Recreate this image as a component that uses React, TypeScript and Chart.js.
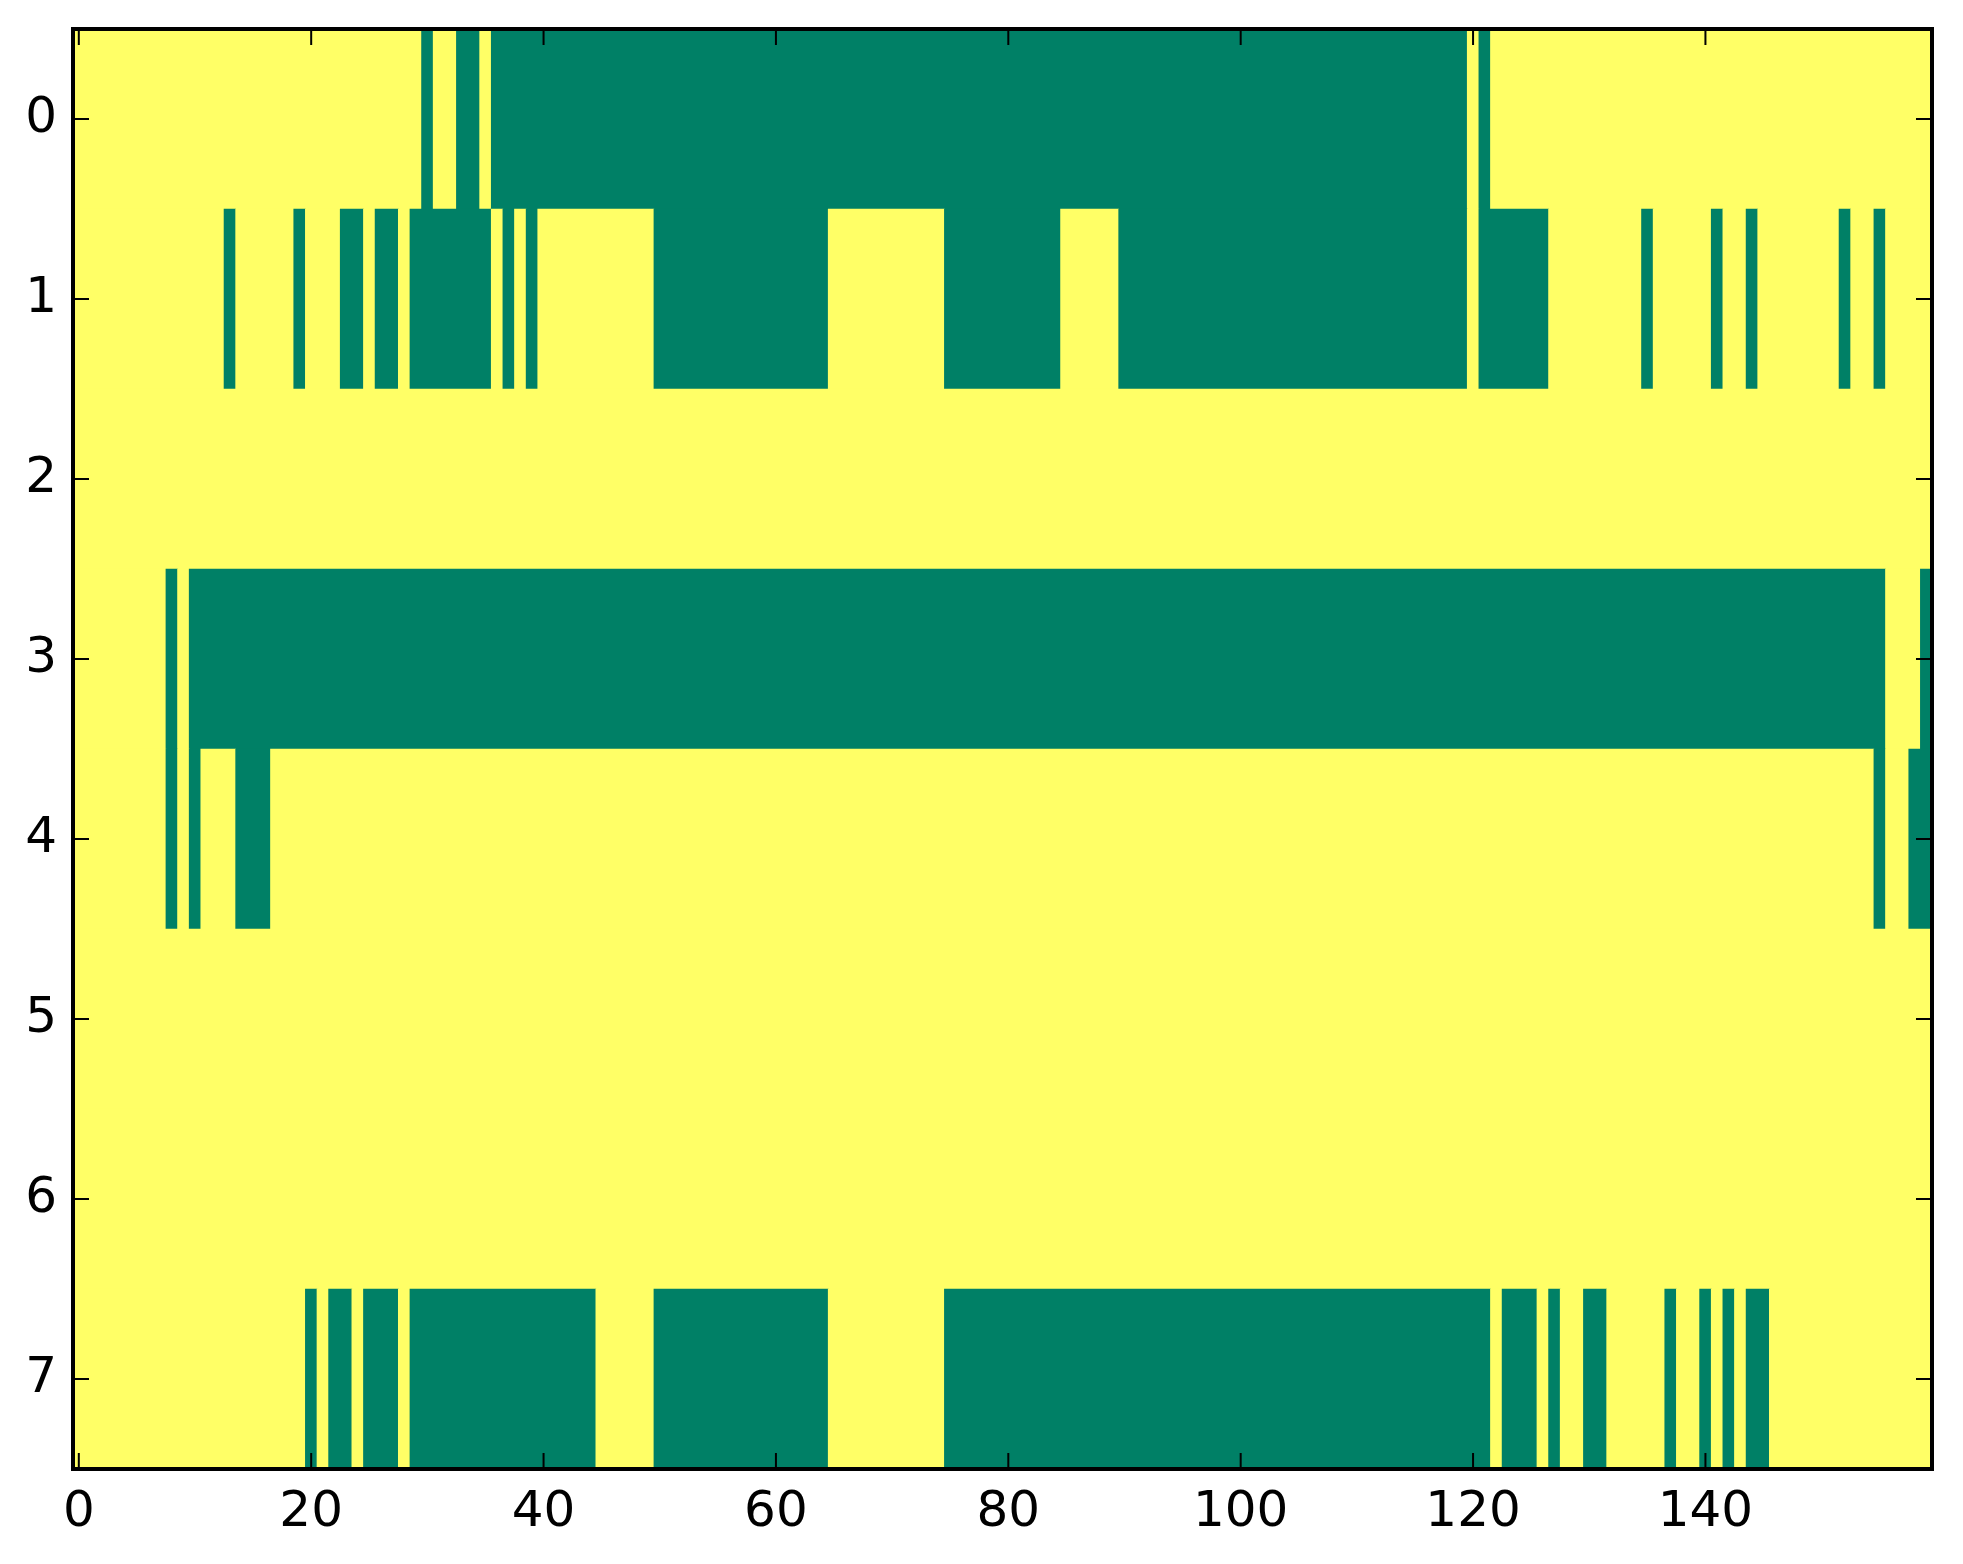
import React, { useEffect, useRef } from 'react';
import { Chart, registerables } from 'chart.js';

Chart.register(...registerables);

// ---- data ----
const ROW_LABELS = ['0', '1', '2', '3', '4', '5', '6', '7'];
const X_TICKS = [0, 20, 40, 60, 80, 100, 120, 140];
const N_COLS = 160;

// Runs of cells whose value is 0 (green); every other cell is 1 (yellow).
const ROW0_ZERO_RUNS = [[30, 30], [33, 34], [36, 119], [121, 121]];
const ROW1_ZERO_RUNS = [
  [13, 13], [19, 19], [23, 24], [26, 27], [29, 35], [37, 37], [39, 39],
  [50, 64], [75, 84], [90, 119], [121, 126], [135, 135], [141, 141],
  [144, 144], [152, 152], [155, 155],
];
const ROW2_ZERO_RUNS: number[][] = [];
const ROW3_ZERO_RUNS = [[8, 8], [10, 155], [159, 159]];
const ROW4_ZERO_RUNS = [[8, 8], [10, 10], [14, 16], [155, 155], [158, 159]];
const ROW5_ZERO_RUNS: number[][] = [];
const ROW6_ZERO_RUNS: number[][] = [];
const ROW7_ZERO_RUNS = [
  [20, 20], [22, 23], [25, 27], [29, 44], [50, 64], [75, 121], [123, 125],
  [127, 127], [130, 131], [137, 137], [140, 140], [142, 142], [144, 145],
];
const ROWS_ZERO_RUNS = [
  ROW0_ZERO_RUNS, ROW1_ZERO_RUNS, ROW2_ZERO_RUNS, ROW3_ZERO_RUNS,
  ROW4_ZERO_RUNS, ROW5_ZERO_RUNS, ROW6_ZERO_RUNS, ROW7_ZERO_RUNS,
];

// ---- style ----
const COLOR_ZERO = '#008066';
const COLOR_ONE = '#ffff66';
const FONT = { family: 'DejaVu Sans', size: 50 };

function buildMatrix(): number[][] {
  return ROWS_ZERO_RUNS.map((runs) => {
    const row = new Array(N_COLS).fill(1);
    runs.forEach(([s, e]) => {
      for (let c = s; c <= e; c++) row[c] = 0;
    });
    return row;
  });
}

function buildBars(matrix: number[][]) {
  const bars: { x: number[]; y: string; v: number }[] = [];
  matrix.forEach((row, r) => {
    let start = 0;
    for (let c = 1; c <= row.length; c++) {
      if (c === row.length || row[c] !== row[start]) {
        bars.push({ x: [start - 0.5, c - 0.5], y: ROW_LABELS[r], v: row[start] });
        start = c;
      }
    }
  });
  return bars;
}

const bgPlugin = {
  id: 'bgPlugin',
  beforeDatasetsDraw(chart: any) {
    const { ctx, chartArea } = chart;
    ctx.save();
    ctx.fillStyle = COLOR_ONE;
    ctx.fillRect(chartArea.left, chartArea.top, chartArea.right - chartArea.left, chartArea.bottom - chartArea.top);
    ctx.restore();
  },
};

const framePlugin = {
  id: 'framePlugin',
  afterDraw(chart: any) {
    const { ctx, chartArea } = chart;
    const { left, right, top, bottom } = chartArea;
    const xs = chart.scales.x;
    const ys = chart.scales.y;
    const L = 16;
    ctx.save();
    ctx.strokeStyle = '#000';
    ctx.lineWidth = 2;
    ctx.beginPath();
    X_TICKS.forEach((v) => {
      const px = xs.getPixelForValue(v);
      ctx.moveTo(px, bottom);
      ctx.lineTo(px, bottom - L);
      ctx.moveTo(px, top);
      ctx.lineTo(px, top + L);
    });
    ROW_LABELS.forEach((_, i) => {
      const py = ys.getPixelForValue(i);
      ctx.moveTo(left, py);
      ctx.lineTo(left + L, py);
      ctx.moveTo(right, py);
      ctx.lineTo(right - L, py);
    });
    ctx.stroke();
    ctx.lineWidth = 4;
    ctx.strokeRect(left, top, right - left, bottom - top);
    ctx.restore();
  },
};

export default function App() {
  const ref = useRef<HTMLCanvasElement | null>(null);

  useEffect(() => {
    if (!ref.current) return;
    const bars = buildBars(buildMatrix());
    const chart = new Chart(ref.current, {
      type: 'bar',
      data: {
        labels: ROW_LABELS,
        datasets: [
          {
            data: bars as any,
            backgroundColor: (c: any) => (c.raw && c.raw.v ? COLOR_ONE : COLOR_ZERO),
            borderWidth: 0,
            barPercentage: 1,
            categoryPercentage: 1,
            grouped: false,
          } as any,
        ],
      },
      options: {
        indexAxis: 'y',
        responsive: false,
        animation: false,
        devicePixelRatio: 1,
        layout: { padding: { left: 0, top: 29, right: 31, bottom: 0 } },
        plugins: { legend: { display: false }, tooltip: { enabled: false } },
        scales: {
          x: {
            type: 'linear',
            min: -0.5,
            max: 159.5,
            grid: { display: false, drawTicks: false },
            border: { display: false },
            ticks: { font: FONT, color: '#000', padding: 14, autoSkip: false, maxRotation: 0 },
            afterBuildTicks: (s: any) => {
              s.ticks = X_TICKS.map((v) => ({ value: v }));
            },
            afterFit: (s: any) => {
              s.height = 95;
              s.paddingLeft = 0;
              s.paddingRight = 0;
            },
          },
          y: {
            type: 'category',
            offset: true,
            grid: { display: false, drawTicks: false, offset: false },
            border: { display: false },
            ticks: { font: FONT, color: '#000', padding: 16 },
            afterFit: (s: any) => {
              s.width = 73;
              s.paddingTop = 0;
              s.paddingBottom = 0;
            },
          },
        },
      } as any,
      plugins: [bgPlugin, framePlugin],
    });
    return () => chart.destroy();
  }, []);

  return (
    <div style={{ position: 'fixed', left: 0, top: 0, width: 1963, height: 1564, background: '#fff' }}>
      <canvas ref={ref} width={1963} height={1564} style={{ width: 1963, height: 1564, display: 'block' }} />
    </div>
  );
}
